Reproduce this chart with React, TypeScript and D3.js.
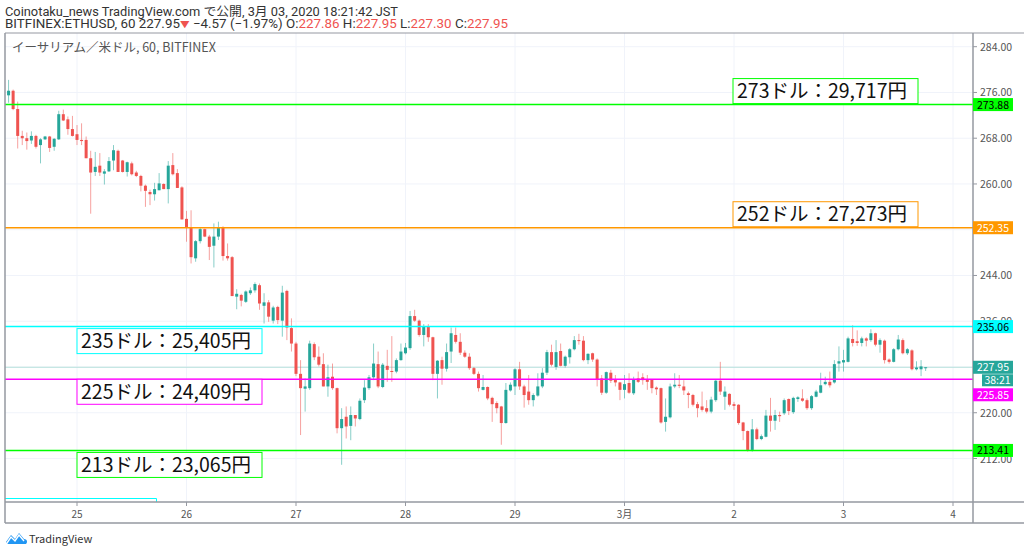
import * as d3 from "d3";

// hourly candles, BITFINEX:ETHUSD, from 2020-02-24 09:00 JST
const START = Date.UTC(2020, 1, 24, 9);

const OPEN = [
  275.5, 276.3, 273.1, 268.4, 268.0, 267.6, 268.4, 266.8, 267.8, 268.3,
  266.5, 267.8, 272.2, 271.3, 269.6, 268.7, 267.7, 267.7, 264.5, 262.1,
  263.2, 261.8, 262.2, 264.1, 265.8, 264.1, 262.1, 263.6, 262.0, 261.4,
  259.7, 258.6, 258.2, 258.9, 260.0, 259.1, 263.3, 261.9, 259.4, 253.9,
  252.3, 247.0, 250.0, 252.1, 250.8, 249.2, 250.8, 252.4, 247.4, 247.2,
  240.3, 240.6, 239.4, 240.9, 241.4, 242.3, 238.7, 239.3, 236.1, 238.5,
  236.1, 241.3, 234.8, 232.1, 226.8, 224.2, 224.3, 232.0, 229.8, 228.5,
  224.6, 226.3, 224.3, 217.3, 219.3, 217.7, 219.6, 218.9, 222.2, 224.3,
  226.2, 228.5, 224.5, 228.2, 227.3, 227.2, 229.2, 230.4, 231.3, 236.9,
  236.1, 233.6, 235.1, 233.2, 226.8, 229.2, 227.7, 230.7, 233.6, 232.4,
  230.5, 229.8, 227.8, 226.8, 224.0, 224.5, 222.6, 221.7, 221.1, 218.2,
  223.9, 224.6, 227.6, 224.6, 223.7, 222.2, 223.0, 224.6, 227.0, 230.6,
  228.0, 230.8, 228.2, 229.7, 231.1, 232.7, 232.6, 229.2, 230.4, 229.3,
  226.0, 223.5, 227.0, 225.8, 225.3, 224.0, 225.2, 223.4, 226.0, 226.2,
  225.8, 225.8, 224.4, 224.3, 218.4, 219.2, 224.6, 224.9, 224.6, 223.4,
  223.1, 221.5, 221.1, 220.8, 220.2, 222.2, 225.6, 222.8, 223.3, 221.5,
  221.4, 218.3, 216.8, 213.5, 217.1, 215.4, 215.8, 219.5, 218.6, 219.6,
  219.9, 222.4, 220.1, 222.4, 222.5, 222.2, 220.8, 222.8, 223.5, 225.0,
  225.4, 225.3, 228.6, 228.8, 228.9, 232.9, 232.5, 232.2, 233.0, 232.7,
  233.9, 231.9, 232.6, 229.3, 228.9, 231.1, 232.7, 230.4, 230.9, 227.6,
  227.6, 227.86,
];

const HIGH = [
  278.2, 276.5, 274.4, 269.3, 269.0, 269.2, 268.6, 268.0, 268.4, 268.4,
  268.0, 272.8, 273.0, 271.8, 271.9, 270.3, 270.6, 268.3, 265.8, 265.6,
  265.4, 262.6, 264.7, 266.8, 266.0, 264.2, 263.9, 263.9, 262.3, 261.6,
  259.9, 259.0, 260.2, 261.9, 260.1, 264.0, 265.4, 262.6, 259.6, 255.3,
  255.4, 250.2, 252.3, 252.2, 251.1, 253.1, 253.4, 252.6, 249.6, 247.4,
  241.6, 240.8, 241.4, 241.9, 242.8, 242.6, 240.9, 239.7, 238.7, 238.7,
  242.2, 241.5, 236.5, 232.4, 229.2, 226.0, 232.6, 232.3, 231.6, 230.4,
  228.4, 228.6, 224.4, 220.8, 221.1, 221.1, 219.6, 222.5, 225.7, 226.6,
  232.1, 230.7, 228.7, 231.0, 233.4, 229.5, 232.1, 232.2, 237.8, 238.0,
  236.3, 235.5, 235.5, 233.3, 229.2, 229.8, 232.1, 234.9, 234.9, 233.9,
  230.9, 230.4, 228.0, 227.2, 226.6, 224.6, 222.8, 222.0, 221.2, 225.2,
  225.3, 227.8, 228.9, 224.9, 226.6, 223.4, 226.9, 227.8, 231.0, 231.9,
  232.7, 232.1, 230.0, 231.3, 233.4, 233.8, 233.4, 230.4, 230.5, 229.5,
  226.6, 227.2, 227.5, 226.6, 225.4, 226.6, 226.9, 226.3, 227.2, 226.9,
  226.6, 225.9, 224.6, 224.4, 222.5, 225.1, 226.9, 226.6, 225.7, 223.7,
  223.3, 221.9, 223.7, 222.2, 222.8, 225.8, 228.9, 224.6, 223.4, 221.9,
  221.5, 218.4, 216.9, 218.9, 217.4, 216.2, 220.5, 222.6, 220.5, 220.2,
  222.5, 222.5, 222.8, 222.9, 224.1, 222.5, 223.1, 224.0, 227.0, 226.3,
  227.2, 229.2, 231.6, 231.0, 233.3, 235.3, 234.4, 233.3, 233.2, 234.6,
  234.0, 233.0, 232.8, 229.5, 231.3, 233.6, 233.0, 231.3, 231.1, 229.0,
  229.2, 227.95,
];

const LOW = [
  274.2, 272.9, 266.2, 266.8, 266.0, 267.0, 266.2, 263.6, 267.7, 265.6,
  265.8, 267.7, 271.0, 268.6, 268.3, 266.8, 266.8, 264.5, 254.8, 261.4,
  261.4, 259.9, 262.1, 262.4, 262.1, 262.0, 261.3, 261.5, 261.2, 258.7,
  256.0, 256.3, 257.1, 258.9, 259.1, 256.6, 261.5, 259.3, 253.8, 249.9,
  246.1, 246.4, 249.6, 250.7, 246.7, 245.4, 250.2, 246.6, 246.6, 240.4,
  238.1, 238.6, 239.2, 240.6, 241.0, 238.0, 235.6, 235.9, 235.6, 235.5,
  233.3, 232.7, 230.7, 226.4, 216.1, 220.2, 224.0, 229.2, 228.1, 224.6,
  222.8, 224.0, 216.4, 210.9, 215.5, 215.2, 217.6, 218.7, 221.7, 224.0,
  225.7, 224.3, 224.3, 225.4, 225.4, 226.9, 229.1, 230.2, 231.0, 235.9,
  233.3, 231.6, 232.4, 225.7, 222.5, 224.9, 227.2, 228.7, 232.1, 230.1,
  229.6, 227.5, 226.6, 223.7, 223.9, 222.2, 218.4, 219.9, 214.4, 218.1,
  223.7, 223.1, 224.0, 220.9, 221.4, 221.1, 222.8, 224.3, 226.6, 228.1,
  227.5, 228.1, 227.9, 228.6, 230.9, 231.9, 229.0, 228.5, 228.9, 224.6,
  223.1, 223.3, 225.2, 224.6, 222.2, 222.5, 223.3, 223.1, 225.2, 224.9,
  224.0, 223.4, 223.1, 218.1, 216.7, 219.0, 224.3, 224.3, 223.1, 220.8,
  221.1, 219.2, 220.2, 219.9, 219.9, 221.9, 223.1, 220.5, 221.1, 220.5,
  217.9, 215.2, 213.2, 213.2, 215.2, 215.2, 215.7, 216.7, 217.0, 218.4,
  219.6, 219.6, 219.8, 221.9, 221.9, 220.5, 220.5, 222.7, 223.4, 224.8,
  224.4, 225.1, 227.2, 227.2, 228.8, 231.6, 231.7, 231.6, 231.6, 232.4,
  231.6, 230.5, 228.6, 228.6, 228.8, 230.9, 230.2, 230.1, 227.4, 227.4,
  226.4, 227.3,
];

const CLOSE = [
  276.3, 273.1, 268.4, 268.0, 267.5, 268.4, 266.5, 267.8, 268.3, 266.3,
  267.9, 272.2, 271.1, 269.6, 268.4, 267.7, 267.5, 264.5, 262.0, 263.0,
  262.0, 262.2, 264.0, 265.9, 262.1, 262.1, 263.8, 261.7, 261.4, 259.7,
  258.8, 258.2, 259.1, 260.1, 259.1, 263.2, 261.7, 259.3, 253.8, 252.3,
  247.2, 250.0, 252.1, 250.8, 249.0, 250.8, 252.4, 247.4, 247.0, 240.4,
  240.8, 239.6, 241.2, 241.4, 242.5, 239.1, 239.3, 236.8, 238.4, 236.2,
  241.0, 234.9, 232.1, 226.8, 224.3, 224.6, 232.1, 229.7, 228.4, 224.6,
  226.2, 224.3, 217.3, 218.9, 217.6, 219.6, 219.0, 222.1, 224.4, 226.2,
  228.6, 224.6, 228.4, 227.5, 227.2, 229.2, 230.7, 231.4, 236.9, 236.1,
  233.6, 235.1, 233.2, 226.8, 229.1, 227.7, 230.6, 233.9, 232.4, 230.5,
  229.8, 227.8, 226.8, 224.3, 224.5, 222.5, 221.5, 220.8, 218.2, 224.0,
  224.9, 227.6, 224.6, 223.1, 222.2, 223.1, 224.6, 227.0, 230.6, 228.4,
  230.6, 228.2, 229.8, 231.1, 232.7, 232.6, 229.2, 230.3, 229.3, 225.8,
  223.5, 227.1, 225.6, 225.3, 224.0, 225.0, 223.5, 225.8, 225.4, 225.7,
  225.4, 224.3, 224.1, 218.3, 219.3, 224.6, 224.9, 224.7, 223.9, 223.1,
  221.4, 220.8, 220.5, 220.2, 222.3, 225.6, 223.7, 223.7, 221.4, 221.2,
  218.2, 216.8, 213.5, 217.1, 215.4, 215.9, 219.5, 218.6, 219.6, 219.4,
  222.2, 220.3, 222.6, 222.7, 222.1, 220.8, 222.9, 223.7, 224.8, 225.4,
  224.8, 228.5, 229.0, 229.2, 233.0, 232.2, 232.2, 233.0, 232.6, 233.9,
  231.9, 232.7, 229.2, 228.9, 231.1, 232.8, 230.4, 231.1, 227.6, 227.9,
  228.1, 227.95,
];

// horizontal levels drawn on the chart
const LEVELS = [273.88, 252.35, 235.06, 225.85, 213.41];
const LEVEL_COLORS = ["#00ff00", "#ff9800", "#00ffff", "#ff00ff", "#00ff00"];
const LEVEL_TEXT_COLORS = ["#000000", "#ffffff", "#000000", "#ffffff", "#000000"];
const NOTES = [
  "273ドル：29,717円",
  "252ドル：27,273円",
  "235ドル：25,405円",
  "225ドル：24,409円",
  "213ドル：23,065円",
];

const LAST_PRICE = 227.95;
const COUNTDOWN = "38:21";
const PRICE_TICKS = [212, 220, 228, 236, 244, 252, 260, 268, 276, 284];
// ticks fully hidden behind a price label in the original
const HIDDEN_TICKS = [228, 252];

const UP = "#26a69a";
const DOWN = "#ef5350";
const FONT = "'Noto Sans CJK JP', 'Noto Sans', sans-serif";
const HEAD_FONT = "Roboto, 'Noto Sans CJK JP', sans-serif";

const W = 1024;
const H = 552;
const left = 5;
const right = 973;
const top = 33;
const bottom = 502;
const axisBottom = 523;

export default function App() {
  const x = d3
    .scaleUtc()
    .domain([new Date(Date.UTC(2020, 1, 25)), new Date(Date.UTC(2020, 2, 4))])
    .range([77, 953]);
  const y = d3.scaleLinear().domain([212, 284]).range([458.5, 46.7]);

  const times = CLOSE.map((_, i) => new Date(START + i * 3600e3));
  const days = d3.utcDay.range(
    new Date(Date.UTC(2020, 1, 25)),
    new Date(Date.UTC(2020, 2, 5))
  );
  const dayLabel = (d: Date) =>
    d.getUTCDate() === 1 ? `${d.getUTCMonth() + 1}月` : String(d.getUTCDate());

  const bw = 3;
  const countdownTop = y(LAST_PRICE) + 7;
  const countdownBottom = countdownTop + 12;

  // label position on the right axis, pushed down when it meets the countdown
  const labelY = (v: number) => {
    const yy = y(v);
    if (yy + 6 > countdownTop && yy - 6 < countdownBottom) return countdownBottom + 8.5;
    return yy;
  };

  return (
    <svg
      width={W}
      height={H}
      style={{ position: "absolute", left: 0, top: 0, background: "#fff" }}
      fontFamily={FONT}
    >
      <defs>
        <clipPath id="plot">
          <rect x={left} y={top} width={right - left} height={bottom - top} />
        </clipPath>
      </defs>

      {/* header */}
      <g fontFamily={HEAD_FONT} fontSize={12.5} fill="#333">
        <text x={5} y={16} textLength={393} lengthAdjust="spacingAndGlyphs">
          Coinotaku_news TradingView.com で公開, 3月 03, 2020 18:21:42 JST
        </text>
        <text x={5} y={28} textLength={503} lengthAdjust="spacingAndGlyphs">
          BITFINEX:ETHUSD, 60 227.95
          <tspan fill={DOWN} fontSize={9}>▼</tspan>
          <tspan> −4.57 (−1.97%) O:</tspan>
          <tspan fill={DOWN}>227.86</tspan> H:<tspan fill={DOWN}>227.95</tspan> L:
          <tspan fill={DOWN}>227.30</tspan> C:<tspan fill={DOWN}>227.95</tspan>
        </text>
      </g>

      {/* grid */}
      <g stroke="#f0f3fa" strokeWidth={1}>
        {days.map((d) => (
          <line key={+d} x1={x(d)} x2={x(d)} y1={top} y2={bottom} />
        ))}
        {PRICE_TICKS.map((p) => (
          <line key={p} x1={left} x2={right} y1={y(p)} y2={y(p)} />
        ))}
      </g>

      <text x={12} y={52} fontSize={12.5} fill="#555">
        イーサリアム／米ドル, 60, BITFINEX
      </text>

      <g clipPath="url(#plot)">
        {/* last price line */}
        <line x1={left} x2={right} y1={y(LAST_PRICE)} y2={y(LAST_PRICE)} stroke="#b7e1dc" strokeWidth={1} />

        {/* candles */}
        {times.map((t, i) => {
          const up = CLOSE[i] >= OPEN[i];
          const c = up ? UP : DOWN;
          const cx = x(t);
          const y0 = y(Math.max(OPEN[i], CLOSE[i]));
          const y1 = y(Math.min(OPEN[i], CLOSE[i]));
          return (
            <g key={i}>
              <line
                x1={cx}
                x2={cx}
                y1={y(HIGH[i])}
                y2={y(LOW[i])}
                stroke={c}
                strokeOpacity={0.55}
                strokeWidth={1}
              />
              <rect x={cx - bw / 2} y={y0} width={bw} height={Math.max(1, y1 - y0)} fill={c} />
            </g>
          );
        })}

        {/* levels */}
        {LEVELS.map((v, i) => (
          <line key={v} x1={left} x2={right} y1={y(v)} y2={y(v)} stroke={LEVEL_COLORS[i]} strokeWidth={1.5} />
        ))}

        {/* notes */}
        {NOTES.map((t, i) => {
          const bx = i < 2 ? 733 : 77;
          const by = i < 2 ? y(LEVELS[i]) - 26 : y(LEVELS[i]) + (i === 3 ? 0 : 2);
          return (
            <g key={t}>
              <rect x={bx} y={by} width={185} height={25} fill="#fff" stroke={LEVEL_COLORS[i]} strokeWidth={1} />
              <text x={bx + 4} y={by + 19.5} fontSize={19.5} fill="#111">
                {t}
              </text>
            </g>
          );
        })}

        <path d={`M${left},498.5H156.5V${bottom}`} fill="none" stroke="#00ffff" strokeWidth={1} />
      </g>

      {/* frame */}
      <g stroke="#9598a1" fill="none">
        <line x1={left} x2={W} y1={top} y2={top} strokeWidth={1} />
        <line x1={left} x2={left} y1={top} y2={axisBottom} strokeWidth={1.5} />
        <line x1={right} x2={right} y1={top} y2={axisBottom} strokeWidth={1.5} />
        <line x1={left} x2={W} y1={bottom} y2={bottom} strokeWidth={1.5} />
        <line x1={left} x2={W} y1={axisBottom} y2={axisBottom} strokeWidth={1.5} />
      </g>

      {/* time axis */}
      <g fontSize={10} fill="#555" textAnchor="middle">
        {days.map((d) => (
          <g key={+d}>
            <line x1={x(d)} x2={x(d)} y1={bottom} y2={bottom + 4} stroke="#9598a1" />
            <text x={x(d)} y={518}>
              {dayLabel(d)}
            </text>
          </g>
        ))}
      </g>

      {/* price axis */}
      <g fontSize={10.5} fill="#555">
        {PRICE_TICKS.map((p) => (
          <g key={p}>
            <line x1={right} x2={right + 4} y1={y(p)} y2={y(p)} stroke="#9598a1" />
            {!HIDDEN_TICKS.includes(p) && (
              <text x={980} y={y(p) + 4}>
                {p.toFixed(2)}
              </text>
            )}
          </g>
        ))}
      </g>

      {/* axis labels for the levels */}
      <g fontSize={10.5}>
        {LEVELS.map((v, i) => {
          const ly = labelY(v);
          return (
            <g key={v}>
              <rect x={right} y={ly - 6.5} width={40} height={13} fill={LEVEL_COLORS[i]} />
              <text x={right + 20} y={ly + 4} textAnchor="middle" fill={LEVEL_TEXT_COLORS[i]}>
                {v.toFixed(2)}
              </text>
            </g>
          );
        })}
        <rect x={right} y={y(LAST_PRICE) - 6.5} width={40} height={13} fill={UP} />
        <text x={right + 20} y={y(LAST_PRICE) + 4} textAnchor="middle" fill="#fff">
          {LAST_PRICE.toFixed(2)}
        </text>
        <rect x={982} y={countdownTop} width={31} height={12} fill={UP} />
        <text x={997.5} y={countdownTop + 9.5} textAnchor="middle" fill="#fff">
          {COUNTDOWN}
        </text>
      </g>

      {/* logo */}
      <g transform="translate(6,531)">
        <path
          d="M0,11 L5,4 L9,8 L13,2 L18,8 C21,8 22,11 20,13 L2,13 Z"
          fill="#2196f3"
        />
        <path d="M1,12 L5,6 L9,10 L13,4 L18,10" fill="none" stroke="#fff" strokeWidth={1.4} />
      </g>
      <text x={29} y={543} fontSize={11} fill="#333">
        TradingView
      </text>
    </svg>
  );
}
